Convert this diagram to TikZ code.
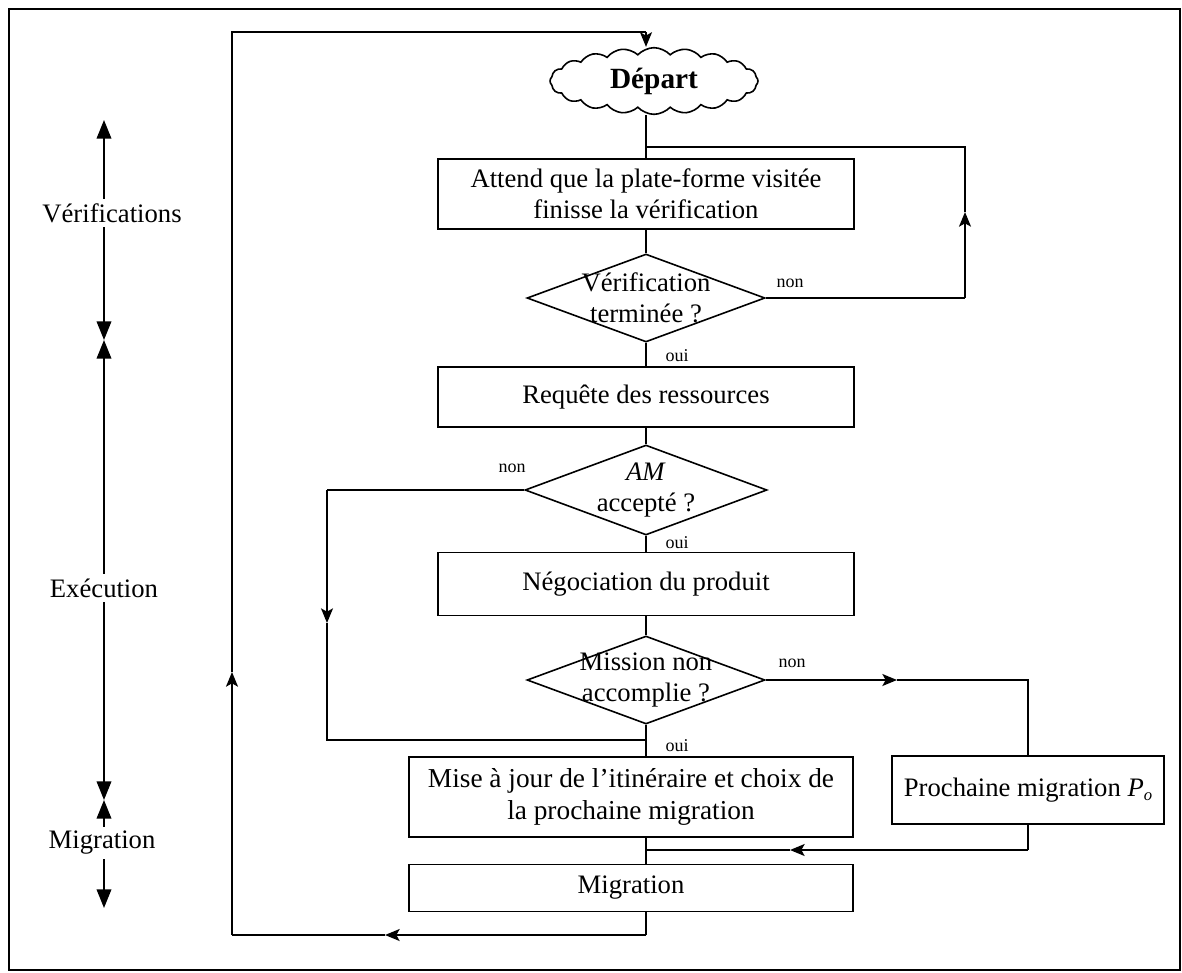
\documentclass[tikz,border=0pt]{standalone}
\usepackage{fontspec}
\setmainfont{Liberation Serif}
\usetikzlibrary{shapes.geometric,shapes.symbols,arrows.meta}

\begin{document}
\begin{tikzpicture}[x=0.75pt,y=-0.75pt,
  every node/.style={font=\fontsize{20}{23.5}\selectfont, align=center},
  line/.style={line width=1.2pt},
  stepbox/.style={draw, rectangle, line width=1.2pt, inner sep=0pt},
  testshape/.style={draw, diamond, line width=1.2pt, inner sep=0pt},
  tag/.style={font=\fontsize{13.5}{15}\selectfont, inner sep=1pt},
  flowtip/.style={-{Stealth[length=11pt,width=9pt,inset=2.5pt]}},
  spantip/.style={-{Triangle[length=14pt,width=11pt]}},
]
\useasboundingbox (0,0) rectangle (1182,972);

% outer frame
\draw[line width=1.2pt] (9,9) rectangle (1180,970);

% ---- phases on the left ----
\coordinate (spine) at (104,0);
\coordinate (m1) at (104,120);
\coordinate (m2) at (104,340);
\coordinate (m3) at (104,800);
\coordinate (m4) at (104,908);
\node (ver) at (112,213) {Vérifications};
\node (exe) at (104,588) {Exécution};
\node (mgl) at (102,843) {Migration};
\draw[line,spantip] (ver.north -| spine) -- (m1);
\draw[line,spantip] (ver.south -| spine) -- (m2);
\draw[line,spantip] (exe.north -| spine) -- (m2);
\draw[line,spantip] (exe.south -| spine) -- (m3);
\draw[line,spantip] (mgl.north -| spine) -- (m3);
\draw[line,spantip] (mgl.south -| spine) -- (m4);

% ---- flowchart ----
\node[cloud, draw, line width=1.2pt, cloud puffs=20, cloud puff arc=95, aspect=3.5,
      minimum width=156pt, minimum height=50pt, inner sep=0pt,
      font=\bfseries\fontsize{22}{25}\selectfont] (start) at (654,81) {Départ};

\node[stepbox, minimum width=312pt, minimum height=52.5pt] (wait) at (646,194)
  {Attend que la plate-forme visitée\\finisse la vérification};

\node[testshape, minimum width=178.5pt, minimum height=66pt] (chk) at (646,298) {};
\node (chkt) at (646,298) {Vérification\\terminée ?};

\node[stepbox, minimum width=312pt, minimum height=45pt] (req) at (646,397)
  {Requête des ressources};

\node[testshape, minimum width=181.5pt, minimum height=67.5pt] (acc) at (646,490) {};
\node (acct) at (646,490) {\textit{AM}\\accepté ?};

\node[stepbox, minimum width=312pt, minimum height=47.25pt] (neg) at (646,584)
  {Négociation du produit};

\node[testshape, minimum width=178.5pt, minimum height=66pt] (mis) at (646,680) {};
\node (mist) at (646,680) {Mission non\\accomplie ?};

\node[stepbox, minimum width=333pt, minimum height=60pt,
      font=\fontsize{20.5}{24}\selectfont] (maj) at (631,797)
  {Mise à jour de l'itinéraire et choix de\\la prochaine migration};

\node[stepbox, minimum width=204pt, minimum height=51pt] (nxt) at (1028,790)
  {Prochaine migration \textit{P}\raisebox{-0.35ex}{\fontsize{12.5}{14}\selectfont\textit{o}}};

\node[stepbox, minimum width=333pt, minimum height=35.25pt] (mig) at (631,888)
  {Migration};

% labels on the branches
\node[tag] (n1) at (790,283) {non};
\node[tag] (o1) at (677,356) {oui};
\node[tag] (n2) at (512,468) {non};
\node[tag] (o2) at (677,543) {oui};
\node[tag] (n3) at (792,663) {non};
\node[tag] (o3) at (677,746) {oui};

% main spine
\coordinate (j1) at (646,147);
\draw[line] (start.south -| j1) -- (wait.north);
\draw[line] (wait.south) -- (chk.north);
\draw[line] (chk.south) -- (req.north);
\draw[line] (req.south) -- (acc.north);
\draw[line] (acc.south) -- (neg.north);
\draw[line] (neg.south) -- (mis.north);
\draw[line] (mis.south) -- (mis.south |- maj.north);

% loop back while the check is running
\coordinate (r1) at (965,298);
\coordinate (r2) at (965,212);
\coordinate (r3) at (965,147);
\draw[line] (chk.east) -- (r1);
\draw[line,flowtip] (r1) -- (r2);
\draw[line] (r2) -- (r3) -- (j1);

% refused agent
\coordinate (l1) at (327,490);
\coordinate (l2) at (327,623);
\coordinate (l3) at (327,740);
\coordinate (j3) at (646,740);
\draw[line] (acc.west) -- (l1);
\draw[line,flowtip] (l1) -- (l2);
\draw[line] (l2) -- (l3) -- (j3);

% mission accomplished
\coordinate (p1) at (897,680);
\coordinate (p2) at (1028,680);
\draw[line,flowtip] (mis.east) -- (p1);
\draw[line] (p1) -- (p2) -- (nxt.north);

\coordinate (q1) at (1028,850);
\coordinate (q2) at (790,850);
\coordinate (j4) at (646,850);
\draw[line] (nxt.south) -- (q1);
\draw[line,flowtip] (q1) -- (q2);
\draw[line] (q2) -- (j4);
\draw[line] (maj.south -| j4) -- (mig.north -| j4);

% back to the start
\coordinate (b1) at (646,935);
\coordinate (b2) at (385,935);
\coordinate (b3) at (232,935);
\coordinate (b4) at (232,672);
\coordinate (b5) at (232,32);
\coordinate (b6) at (646,32);
\draw[line] (mig.south -| b1) -- (b1);
\draw[line,flowtip] (b1) -- (b2);
\draw[line] (b2) -- (b3);
\draw[line,flowtip] (b3) -- (b4);
\draw[line] (b4) -- (b5) -- (b6);
\draw[line,flowtip] (b6) -- (b6 |- start.north);
\end{tikzpicture}
\end{document}
